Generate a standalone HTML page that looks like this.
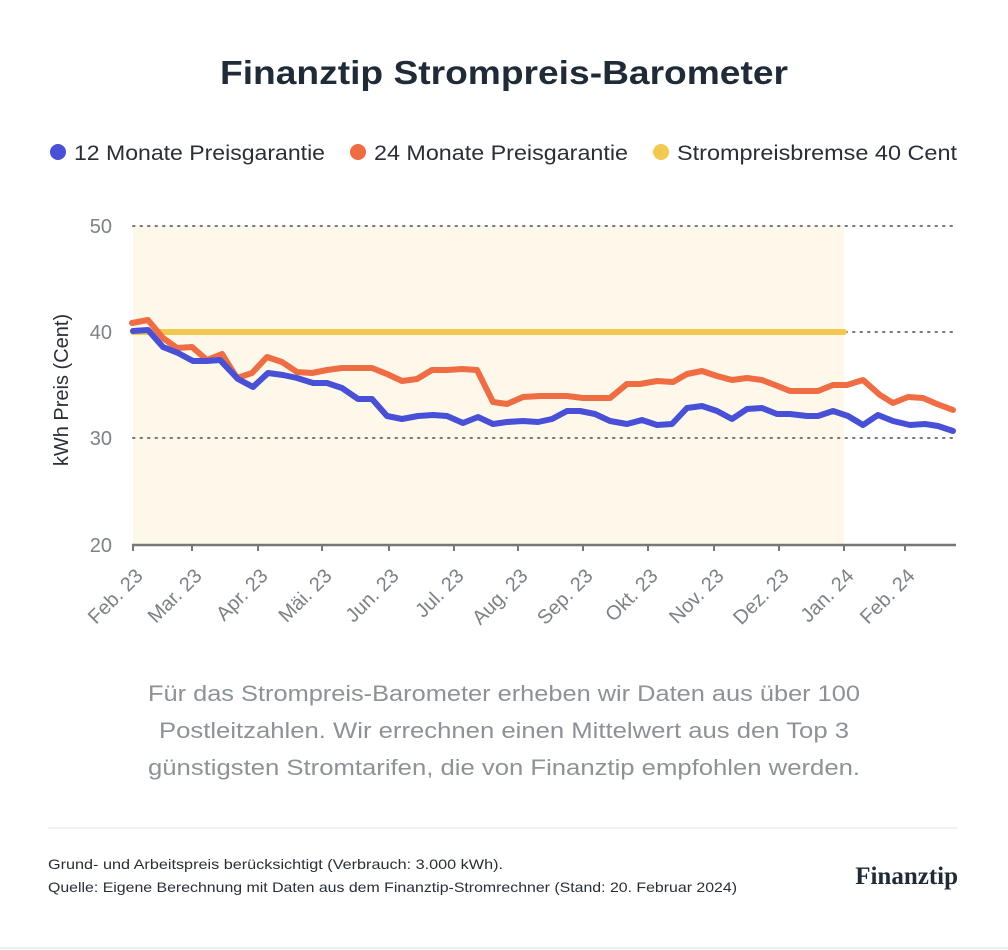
<!DOCTYPE html>
<html><head><meta charset="utf-8"><style>
html,body{margin:0;padding:0;background:#fff;}
svg{display:block;font-family:"Liberation Sans",sans-serif;}
</style></head><body>
<svg width="1008" height="950" viewBox="0 0 1008 950" xmlns="http://www.w3.org/2000/svg">
<rect width="1008" height="950" fill="#fff"/>
<text x="220" y="84" textLength="568" lengthAdjust="spacingAndGlyphs" font-size="33" font-weight="bold" fill="#1f2b37">Finanztip Strompreis-Barometer</text>
<g font-size="21" fill="#2a2f36">
<circle cx="58" cy="152" r="8" fill="#4750d6"/><text x="74" y="160" textLength="251" lengthAdjust="spacingAndGlyphs">12 Monate Preisgarantie</text>
<circle cx="358" cy="152" r="8" fill="#f06c42"/><text x="374" y="160" textLength="254" lengthAdjust="spacingAndGlyphs">24 Monate Preisgarantie</text>
<circle cx="661" cy="152" r="8" fill="#f0c94e"/><text x="677" y="160" textLength="280" lengthAdjust="spacingAndGlyphs">Strompreisbremse 40 Cent</text>
</g>
<rect x="133" y="226" width="711" height="319" fill="#fdf8ea"/>
<g stroke="#777" stroke-width="2" stroke-dasharray="1.5 6" stroke-linecap="round">
<line x1="133" y1="226" x2="956" y2="226"/><line x1="133" y1="332" x2="956" y2="332"/><line x1="133" y1="438" x2="956" y2="438"/>
</g>
<g font-size="20" fill="#7d8188" text-anchor="end">
<text x="112" y="233">50</text><text x="112" y="339">40</text><text x="112" y="445">30</text><text x="112" y="552">20</text>
</g>
<text transform="translate(68,390) rotate(-90)" text-anchor="middle" font-size="20" fill="#2a2f36">kWh Preis (Cent)</text>
<line x1="133" y1="332" x2="844" y2="332" stroke="#f0c94e" stroke-width="6" stroke-linecap="round"/>
<polyline fill="none" stroke="#f06c42" stroke-width="6" stroke-linejoin="round" stroke-linecap="round" points="132,323 148,320 163,338 177,348 192,347 207,360 222,354 237,378 252,373 267,357 282,362 297,372 312,373 327,370 342,368 357,368 372,368 387,374 402,381 417,379 432,370 447,370 462,369 477,370 493,402 507,404 523,397 540,396 567,396 583,398 610,398 627,384 640,384 657,381 673,382 687,374 702,371 717,376 732,380 747,378 762,380 775,385 790,391 818,391 833,385 847,385 863,380 880,395 893,403 908,397 923,398 937,404 953,410"/>
<polyline fill="none" stroke="#4750d6" stroke-width="6" stroke-linejoin="round" stroke-linecap="round" points="133,331 148,330 163,347 178,353 193,361 207,361 220,360 238,379 253,387 268,373 283,375 297,378 313,383 327,383 342,388 358,399 372,399 387,416 402,419 418,416 433,415 447,416 463,423 478,417 493,424 507,422 523,421 538,422 552,419 567,411 580,411 595,414 610,421 627,424 642,420 657,425 672,424 687,408 702,406 717,411 732,419 747,409 762,408 777,414 790,414 807,416 818,416 833,411 848,416 863,425 878,415 893,421 910,425 925,424 938,426 953,431"/>
<line x1="132" y1="545" x2="956" y2="545" stroke="#777" stroke-width="2.5"/>
<g stroke="#777" stroke-width="2">
<line x1="133" y1="545" x2="133" y2="551"/><line x1="192" y1="545" x2="192" y2="551"/><line x1="258" y1="545" x2="258" y2="551"/><line x1="322" y1="545" x2="322" y2="551"/><line x1="389" y1="545" x2="389" y2="551"/><line x1="454" y1="545" x2="454" y2="551"/><line x1="518" y1="545" x2="518" y2="551"/><line x1="583" y1="545" x2="583" y2="551"/><line x1="648" y1="545" x2="648" y2="551"/><line x1="714" y1="545" x2="714" y2="551"/><line x1="779" y1="545" x2="779" y2="551"/><line x1="844" y1="545" x2="844" y2="551"/><line x1="905" y1="545" x2="905" y2="551"/>
</g>
<g font-size="20" fill="#7d8188" text-anchor="end">
<text transform="translate(144,577) rotate(-45)">Feb. 23</text>
<text transform="translate(203,577) rotate(-45)">Mar. 23</text>
<text transform="translate(269,577) rotate(-45)">Apr. 23</text>
<text transform="translate(333,577) rotate(-45)">Mäi. 23</text>
<text transform="translate(400,577) rotate(-45)">Jun. 23</text>
<text transform="translate(465,577) rotate(-45)">Jul. 23</text>
<text transform="translate(529,577) rotate(-45)">Aug. 23</text>
<text transform="translate(594,577) rotate(-45)">Sep. 23</text>
<text transform="translate(659,577) rotate(-45)">Okt. 23</text>
<text transform="translate(725,577) rotate(-45)">Nov. 23</text>
<text transform="translate(790,577) rotate(-45)">Dez. 23</text>
<text transform="translate(855,577) rotate(-45)">Jan. 24</text>
<text transform="translate(916,577) rotate(-45)">Feb. 24</text>
</g>
<g font-size="22" fill="#8d9198">
<text x="148" y="701" textLength="712" lengthAdjust="spacingAndGlyphs">Für das Strompreis-Barometer erheben wir Daten aus über 100</text>
<text x="159" y="738" textLength="690" lengthAdjust="spacingAndGlyphs">Postleitzahlen. Wir errechnen einen Mittelwert aus den Top 3</text>
<text x="148" y="775" textLength="712" lengthAdjust="spacingAndGlyphs">günstigsten Stromtarifen, die von Finanztip empfohlen werden.</text>
</g>
<line x1="48" y1="828" x2="958" y2="828" stroke="#eceef0" stroke-width="1.5"/>
<g font-size="14" fill="#2a2f36">
<text x="48" y="869" textLength="455" lengthAdjust="spacingAndGlyphs">Grund- und Arbeitspreis berücksichtigt (Verbrauch: 3.000 kWh).</text>
<text x="48" y="892" textLength="689" lengthAdjust="spacingAndGlyphs">Quelle: Eigene Berechnung mit Daten aus dem Finanztip-Stromrechner (Stand: 20. Februar 2024)</text>
</g>
<text x="958" y="884" text-anchor="end" font-family="Liberation Serif,serif" font-size="25" font-weight="bold" fill="#1f2b37">Finanztip</text>
<line x1="0" y1="948" x2="1008" y2="948" stroke="#eceef0" stroke-width="2"/>
</svg>
</body></html>
